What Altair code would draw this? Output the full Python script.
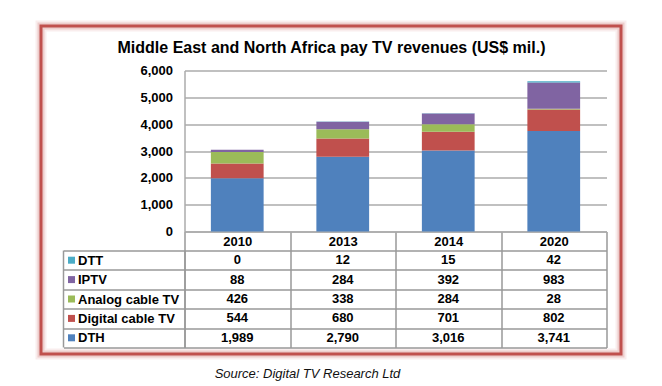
import altair as alt
import pandas as pd

years = ["2010", "2013", "2014", "2020"]
series_stack = ["DTH", "Digital cable TV", "Analog cable TV", "IPTV", "DTT"]
row_order = ["DTT", "IPTV", "Analog cable TV", "Digital cable TV", "DTH"]
colors = ["#4F81BD", "#C0504D", "#9BBB59", "#8064A2", "#4BACC6"]

dth = [1989, 2790, 3016, 3741]
digital_cable = [544, 680, 701, 802]
analog_cable = [426, 338, 284, 28]
iptv = [88, 284, 392, 983]
dtt = [0, 12, 15, 42]

values = {
    "DTH": dth,
    "Digital cable TV": digital_cable,
    "Analog cable TV": analog_cable,
    "IPTV": iptv,
    "DTT": dtt,
}

rows = []
for idx, s in enumerate(series_stack):
    for y, v in zip(years, values[s]):
        rows.append({"year": y, "series": s, "value": v, "idx": idx})
df = pd.DataFrame(rows)
series_df = pd.DataFrame({"series": row_order})
one = pd.DataFrame({"a": [0]})

FONT = "Liberation Sans"
GRID = "#ABABAB"
TGRID = "#999999"
RED = "#C0504D"

W = 422
H_TOP = 161
H_TAB = 97

color_scale = alt.Scale(domain=series_stack, range=colors)

# red frame with soft glow (decoration)
def frame(width, opacity):
    return alt.Chart(one).mark_rect(
        fillOpacity=0, stroke=RED, strokeWidth=width, strokeOpacity=opacity
    ).encode(
        x=alt.value(-143.5), x2=alt.value(436.5),
        y=alt.value(-44.5), y2=alt.value(283.5),
    )

glow1 = frame(11, 0.10)
glow2 = frame(7, 0.20)
border = frame(3, 1.0)

bars = alt.Chart(df).mark_bar(width=alt.RelativeBandSize(0.5)).encode(
    x=alt.X(
        "year:N", sort=years, scale=alt.Scale(padding=0),
        axis=alt.Axis(
            title=None, labelAngle=0, tickBand="extent", tickSize=19,
            tickColor=TGRID, tickWidth=1.5, domainColor=GRID, domainWidth=1.5,
            labelBaseline="middle", labelPadding=-9.5, labelFontSize=13,
            labelFontWeight="bold", labelColor="black", labelFont=FONT, grid=False,
        ),
    ),
    y=alt.Y(
        "value:Q", stack="zero", scale=alt.Scale(domain=[0, 6000]),
        axis=alt.Axis(
            title=None, values=[0, 1000, 2000, 3000, 4000, 5000, 6000], format=",.0f",
            ticks=False, labelPadding=12, labelFontSize=13, labelFontWeight="bold",
            labelColor="black", labelFont=FONT, domainColor=GRID, domainWidth=1.5,
            gridColor=GRID, gridWidth=1.5,
        ),
    ),
    color=alt.Color("series:N", scale=color_scale, legend=None),
    order=alt.Order("idx:Q"),
)

top = alt.layer(glow1, glow2, border, bars).properties(
    width=W, height=H_TOP,
    title=alt.TitleParams(
        "Middle East and North Africa pay TV revenues (US$ mil.)",
        font=FONT, fontSize=16, fontWeight="bold", color="black",
        anchor="middle", dx=-64, offset=-35,
    ),
)

xt = alt.X(
    "year:N", sort=years, scale=alt.Scale(padding=0),
    axis=alt.Axis(
        title=None, labels=False, ticks=False, domain=False, grid=True,
        tickBand="extent", gridColor=TGRID, gridWidth=1.5,
    ),
)
yt = alt.Y(
    "series:N", sort=row_order, scale=alt.Scale(domain=row_order, padding=0),
    axis=alt.Axis(
        title=None, labelAlign="left", tickSize=121, tickBand="extent",
        tickColor=TGRID, tickWidth=1.5, grid=True, gridColor=TGRID, gridWidth=1.5,
        domainColor=TGRID, domainWidth=1.5, labelPadding=-14, labelFontSize=13,
        labelFontWeight="bold", labelColor="black", labelFont=FONT,
    ),
)

cells = alt.Chart(df).mark_text(
    font=FONT, fontSize=13, fontWeight="bold", color="black"
).encode(x=xt, y=yt, text=alt.Text("value:Q", format=","))

squares = alt.Chart(series_df).mark_square(size=49, opacity=1).encode(
    x=alt.value(-113),
    y=alt.Y("series:N", sort=row_order),
    color=alt.Color("series:N", scale=color_scale, legend=None),
)

left_rule = alt.Chart(one).mark_rule(color=TGRID, strokeWidth=1.5).encode(
    x=alt.value(-121), y=alt.value(0), y2=alt.value(H_TAB)
)

table = alt.layer(cells, squares, left_rule).properties(
    width=W, height=H_TAB,
    title=alt.TitleParams(
        "Source: Digital TV Research Ltd", orient="bottom",
        font=FONT, fontSize=13, fontStyle="italic", fontWeight="normal",
        color="#111111", anchor="middle", dx=-88, offset=20,
    ),
)

chart = alt.vconcat(top, table, spacing=19, bounds="flush").properties(
    padding={"left": 27.5, "top": 12.5, "right": 5, "bottom": 5}
).configure_view(strokeWidth=0)

chart.save("out.html", embed_options={"renderer": "svg", "actions": False})
